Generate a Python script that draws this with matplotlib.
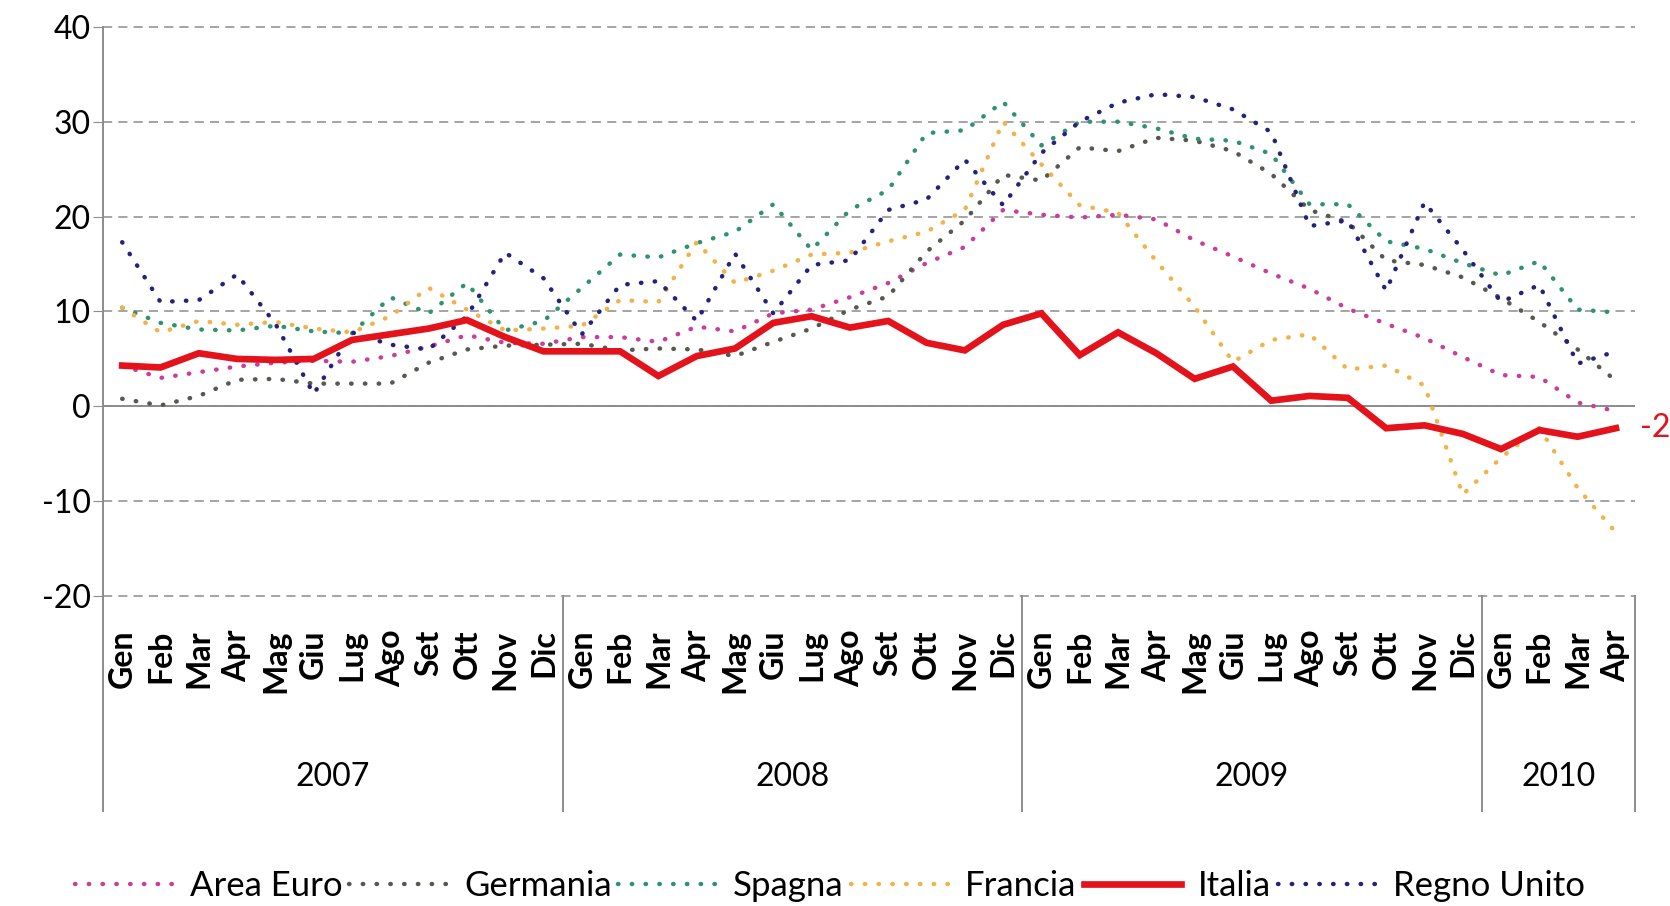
import matplotlib
matplotlib.use('Agg')
import matplotlib.pyplot as plt

plt.rcParams['font.family'] = ['Lato', 'DejaVu Sans']
plt.rcParams['axes.unicode_minus'] = False

mesi = ['Gen', 'Feb', 'Mar', 'Apr', 'Mag', 'Giu', 'Lug', 'Ago', 'Set', 'Ott', 'Nov', 'Dic']
etichette_mesi = mesi * 3 + mesi[:4]
anni = ['2007', '2008', '2009', '2010']
mesi_per_anno = [12, 12, 12, 4]

area_euro = [4.3, 3.0, 3.6, 4.2, 4.6, 4.8, 4.7, 5.3, 6.3, 7.5, 6.7, 6.6,
             7.3, 7.3, 6.8, 8.4, 7.9, 9.8, 10.2, 11.5, 13.0, 15.1, 16.8, 20.7,
             20.2, 19.9, 20.2, 19.7, 17.5, 15.8, 14.0, 12.4, 10.3, 8.7, 7.2, 5.2,
             3.3, 3.1, 0.4, -0.5]
germania = [0.8, 0.1, 1.1, 2.8, 2.9, 2.4, 2.4, 2.4, 4.6, 6.0, 6.4, 6.5,
            6.6, 5.9, 6.1, 6.0, 5.3, 6.8, 8.2, 10.2, 11.6, 16.3, 19.6, 24.4,
            23.8, 27.3, 26.9, 28.3, 28.0, 26.9, 24.5, 20.7, 19.4, 15.4, 14.9, 13.6,
            11.4, 8.9, 6.0, 2.7]
spagna = [10.4, 8.8, 8.1, 8.0, 8.5, 7.9, 7.7, 11.5, 9.8, 13.0, 8.0, 9.0,
          12.5, 16.0, 15.7, 17.2, 18.4, 21.3, 16.5, 20.7, 22.8, 28.8, 29.1, 32.1,
          27.5, 30.0, 30.0, 29.3, 28.2, 28.0, 26.6, 21.3, 21.3, 17.4, 16.6, 15.1,
          13.8, 15.3, 10.2, 9.9]
francia = [10.4, 7.8, 9.0, 8.6, 8.9, 8.2, 7.8, 9.5, 12.5, 10.2, 8.0, 8.2,
           8.5, 11.2, 11.0, 17.3, 13.0, 14.3, 16.0, 16.2, 17.4, 18.4, 20.7, 30.0,
           25.5, 21.2, 20.4, 15.3, 10.5, 4.7, 7.0, 7.6, 3.9, 4.3, 2.2, -9.3,
           -5.4, -2.3, -8.6, -13.3]
italia = [4.3, 4.1, 5.6, 5.0, 4.9, 5.0, 7.0, 7.6, 8.2, 9.1, 7.3, 5.8,
          5.8, 5.8, 3.2, 5.3, 6.1, 8.8, 9.5, 8.3, 9.0, 6.7, 5.9, 8.6,
          9.8, 5.4, 7.8, 5.6, 2.9, 4.2, 0.6, 1.1, 0.9, -2.3, -2.0, -2.9,
          -4.5, -2.5, -3.2, -2.3]
regno_unito = [17.3, 11.0, 11.2, 13.9, 8.7, 1.3, 7.8, 6.5, 6.0, 9.5, 16.2, 13.5,
               7.6, 12.8, 13.2, 9.0, 16.1, 9.8, 14.9, 15.4, 20.7, 21.8, 26.0, 21.2,
               26.7, 30.0, 32.0, 32.9, 32.6, 31.3, 28.9, 19.0, 19.6, 12.2, 21.5, 16.5,
               11.0, 12.8, 4.5, 5.8]

col_area = '#C93D9C'
col_germ = '#55594F'
col_spa = '#2F9270'
col_fra = '#F2B24A'
col_ita = '#E3121B'
col_ru = '#23237D'
col_griglia = '#8C8C8C'

x = list(range(len(etichette_mesi)))
punti = (0, (0.1, 3.0))
lw_punti = 3.2

fig = plt.figure(figsize=(16.7, 9.06), dpi=100)
ax = fig.add_axes([0.0617, 0.342, 0.9174, 0.6284])

serie = [('Area Euro', area_euro, col_area), ('Germania', germania, col_germ),
         ('Spagna', spagna, col_spa), ('Francia', francia, col_fra)]
for nome, valori, colore in serie:
    ax.plot(x, valori, color=colore, lw=lw_punti, ls=punti, dash_capstyle='round', label=nome, zorder=3)
ax.plot(x, italia, color=col_ita, lw=4.8, solid_joinstyle='miter', label='Italia', zorder=5)
ax.plot(x, regno_unito, color=col_ru, lw=lw_punti, ls=punti, dash_capstyle='round', label='Regno Unito', zorder=4)

ax.set_xlim(-0.5, len(x) - 0.5)
ax.set_ylim(-20, 40)
ax.set_yticks(range(-20, 41, 10))
ax.grid(axis='y', color=col_griglia, lw=1.1, ls=(0, (6, 4)))
for gl in ax.get_ygridlines():
    gl.set_clip_on(False)
ax.axhline(0, color=col_griglia, lw=1.4, zorder=2)

for s in ['top', 'right', 'bottom']:
    ax.spines[s].set_visible(False)
ax.spines['left'].set_color(col_griglia)
ax.spines['left'].set_linewidth(1.4)

ax.tick_params(axis='y', labelsize=23, length=7, color=col_griglia, pad=2)
ax.set_xticks(x)
ax.set_xticklabels(etichette_mesi, rotation=90, fontweight='bold', fontsize=23)
ax.tick_params(axis='x', length=0, pad=24)

# separatori anni ed etichette
trans = ax.get_xaxis_transform()
inizio = 0
confini = [-0.5]
for anno, n in zip(anni, mesi_per_anno):
    ax.text(inizio + (n - 1) / 2, -0.318, anno, transform=trans, ha='center', va='center', fontsize=23)
    inizio += n
    confini.append(inizio - 0.5)
for c in confini:
    ax.plot([c, c], [0, -0.378], transform=trans, color=col_griglia, lw=1.4, clip_on=False)

ax.text(len(x) - 0.37, italia[-1], str(round(italia[-1])), color=col_ita, fontsize=23,
        ha='left', va='center', clip_on=False)

fig.legend(loc='center', bbox_to_anchor=(0.497, 0.022), ncol=6, frameon=False, fontsize=25,
           handlelength=2.8, handletextpad=0.5, columnspacing=0.2)

fig.savefig('out.png', dpi=100)
